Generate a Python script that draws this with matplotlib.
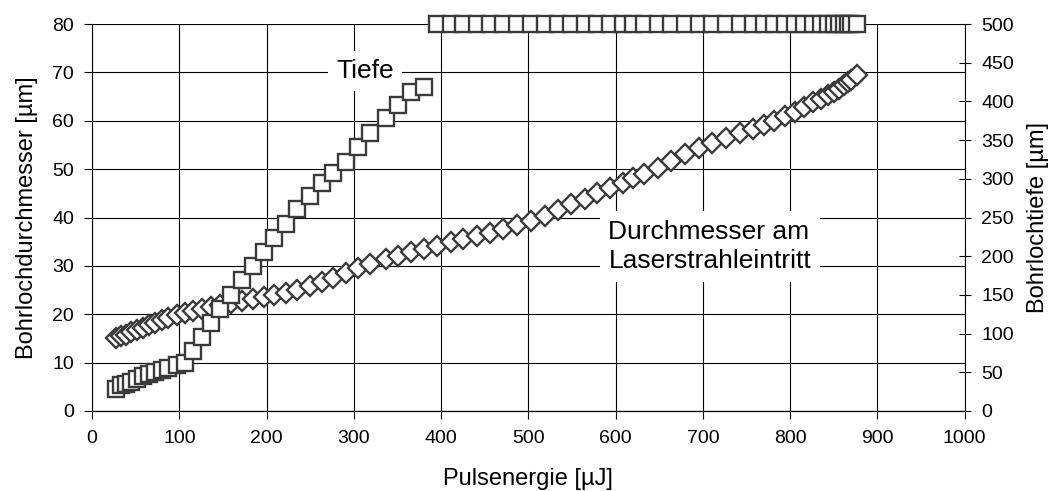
import matplotlib
matplotlib.use('Agg')
from matplotlib import pyplot as plt

plt.rcParams['font.family'] = ['Liberation Sans', 'DejaVu Sans']

# pulse energy [uJ], shared by both series
energie = [28, 33, 39, 45, 52, 58, 65, 72, 80, 87, 97, 106,
           116, 126, 136, 147, 159, 172, 185, 197, 208, 222, 235, 250, 263, 276,
           291, 305, 318, 337, 351, 366, 380,
           395, 411, 425, 441, 456, 471, 487, 503, 519, 534, 549, 565, 579, 594,
           609, 620, 633, 648, 664, 680, 696, 710, 726, 742, 757, 770, 782, 794,
           805, 816, 826, 835, 843, 850, 856, 862, 866, 870, 877]

# hole diameter at beam entrance [um] (left axis)
durchmesser = [15.0, 15.4, 15.8, 16.3, 16.8, 17.2, 17.7, 18.2, 18.8, 19.2, 19.8, 20.3,
               20.7, 21.1, 21.5, 21.9, 22.3, 22.8, 23.2, 23.5, 23.9, 24.4, 25.1, 25.9, 26.6, 27.5,
               28.6, 29.6, 30.4, 31.4, 32.0, 32.8, 33.5,
               34.2, 34.9, 35.5, 36.1, 36.8, 37.6, 38.4, 39.3, 40.3, 41.5, 42.7, 43.9, 45.0, 46.1,
               47.2, 48.1, 49.1, 50.3, 51.7, 53.1, 54.4, 55.4, 56.4, 57.4, 58.4, 59.2, 59.9, 60.9,
               61.9, 62.9, 63.8, 64.6, 65.3, 66.0, 66.6, 67.4, 68.0, 68.5, 69.5]

# hole depth [um] (right axis), 500 = through the sheet
tiefe = [29, 33, 35, 38, 41, 45, 48, 51, 53, 56, 59, 62,
         77, 96, 114, 132, 150, 169, 187, 206, 223, 242, 261, 278, 294, 307,
         322, 341, 359, 378, 396, 412, 419,
         500, 500, 500, 500, 500, 500, 500, 500, 500, 500, 500, 500, 500, 500,
         500, 500, 500, 500, 500, 500, 500, 500, 500, 500, 500, 500, 500, 500,
         500, 500, 500, 500, 500, 500, 500, 500, 500, 500, 500]

edge = '#3a3a3a'
fs_tick = 14
fs_lab = 17
fs_txt = 19

fig = plt.figure(figsize=(10.52, 4.91), dpi=100)
ax = fig.add_subplot(111)
fig.subplots_adjust(left=0.0875, right=0.917, bottom=0.163, top=0.951)

ax.plot(energie, durchmesser, linestyle='none', marker='D', ms=10,
        mfc='white', mec=edge, mew=1.7, zorder=4, clip_on=False)
ax.set_xlim(0, 1000)
ax.set_ylim(0, 80)
ax.set_xticks(range(0, 1001, 100))
ax.set_yticks(range(0, 81, 10))
ax.grid(True, color='black', lw=0.8)
ax.set_axisbelow(True)
ax.spines['top'].set_visible(False)
ax.spines['right'].set_visible(False)
ax.tick_params(direction='out', length=6, width=0.8, labelsize=fs_tick)
ax.tick_params(axis='x', pad=8)
ax.tick_params(axis='y', pad=7)
ax.set_xlabel('Pulsenergie [µJ]', fontsize=fs_lab, labelpad=15)
ax.set_ylabel('Bohrlochdurchmesser [µm]', fontsize=fs_lab, labelpad=10)

box = dict(facecolor='white', edgecolor='none', pad=6)
ax.text(313, 70.3, 'Tiefe', fontsize=fs_txt, ha='center', va='center', bbox=box, zorder=3)
ax.text(708, 34.0, 'Durchmesser am\nLaserstrahleintritt', fontsize=fs_txt,
        ha='center', va='center', multialignment='left', linespacing=1.3,
        bbox=dict(facecolor='white', edgecolor='none', pad=6), zorder=3)

ax2 = ax.twinx()
ax2.plot(energie, tiefe, linestyle='none', marker='s', ms=11.5,
         mfc='white', mec=edge, mew=1.7, clip_on=False)
ax2.set_ylim(0, 500)
ax2.set_yticks(range(0, 501, 50))
ax2.spines['top'].set_visible(False)
ax2.spines['left'].set_visible(False)
ax2.tick_params(direction='inout', length=8, width=0.8, labelsize=fs_tick, pad=8)
ax2.set_ylabel('Bohrlochtiefe [µm]', fontsize=fs_lab, labelpad=9)

fig.savefig('out.png', dpi=100)
